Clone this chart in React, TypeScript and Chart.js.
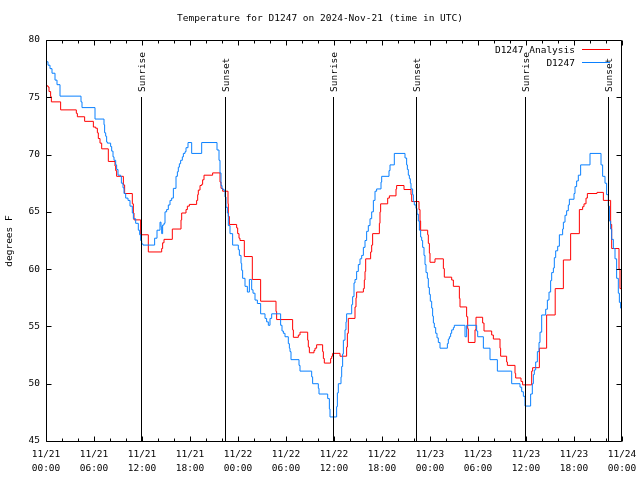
import React, { useEffect, useRef } from "react";
import { Chart, registerables } from "chart.js";

Chart.register(...registerables);

// Hours since 2024-11-21 00:00 UTC, step values (value applies from that hour on)
const analysisHours = [
  0, 0.25, 0.375, 0.58, 0.67, 1.83, 3.79, 3.92, 4.83, 5.92, 6.21, 6.42, 6.54, 6.75, 6.96, 7.79,
  8.625, 8.71, 8.83, 9.67, 9.83, 10.79, 10.92, 11.0, 11.83, 12.79, 14.46, 14.58, 14.75, 15.79,
  16.875, 16.96, 17.5, 17.67, 17.92, 18.83, 18.96, 19.04, 19.25, 19.46, 19.58, 19.75, 20.83,
  21.75, 21.875, 22.08, 22.75, 22.79, 22.92, 23.83, 23.96, 24.125, 24.25, 24.79, 25.79, 26.83,
  28.75, 28.83, 30.83, 30.92, 31.54, 31.75, 32.71, 32.79, 32.92, 33.5, 33.625, 33.83, 34.58,
  34.67, 34.79, 35.58, 35.71, 35.83, 36.75, 37.58, 37.67, 37.79, 38.625, 38.75, 38.83, 39.67,
  39.79, 39.875, 39.96, 40.58, 40.71, 40.83, 41.67, 41.75, 41.83, 42.71, 42.92, 43.75, 43.83,
  44.75, 45.625, 45.71, 46.625, 46.75, 46.83, 47.71, 47.79, 47.92, 48.0, 48.625, 49.67, 49.79,
  50.71, 50.92, 51.67, 51.75, 52.58, 52.71, 52.79, 53.625, 53.75, 54.58, 54.75, 55.71, 55.92,
  56.75, 56.83, 57.58, 57.67, 58.625, 58.71, 59.375, 59.58, 60.71, 60.83, 61.67, 62.58, 63.65,
  64.67, 65.58, 66.67, 67.08, 67.25, 67.5, 67.67, 68.875, 69.67, 70.58, 70.71, 71.625, 71.75, 72.0,
];
const analysisTemps = [
  76.0, 75.9, 75.5, 75.05, 74.6, 73.9, 73.6, 73.3, 72.9, 72.4, 72.3, 71.9, 71.4, 71.0, 70.5, 69.4,
  69.0, 68.6, 68.1, 67.35, 66.6, 65.7, 64.9, 64.3, 63.0, 61.5, 61.8, 62.3, 62.6, 63.5,
  64.3, 64.9, 65.2, 65.5, 65.65, 66.0, 66.5, 66.9, 67.3, 67.4, 67.8, 68.2, 68.4,
  67.6, 67.05, 66.8, 65.7, 64.6, 63.9, 63.6, 63.1, 62.7, 62.5, 61.1, 59.1, 57.2,
  56.3, 55.6, 54.7, 54.05, 54.25, 54.5, 53.8, 53.2, 52.7, 52.9, 53.1, 53.4, 52.8,
  52.2, 51.8, 52.2, 52.4, 52.65, 52.4, 53.2, 54.4, 55.7, 56.7, 57.5, 58.0, 58.3,
  59.05, 59.8, 60.9, 61.5, 62.1, 63.1, 64.0, 65.0, 65.7, 66.2, 66.4, 67.0, 67.3,
  66.95, 66.5, 65.9, 65.2, 64.2, 63.4, 63.0, 62.25, 61.4, 60.6, 60.9, 60.05, 59.3,
  59.05, 58.5, 57.45, 56.7, 55.85, 54.8, 53.6, 54.7, 55.8, 55.3, 54.6, 54.25, 53.9,
  53.1, 52.4, 51.9, 51.6, 50.9, 50.5, 50.2, 49.9, 51.1, 51.4, 53.1, 56.0, 58.3,
  60.8, 63.1, 65.2, 65.45, 65.7, 66.2, 66.6, 66.7, 66.0, 63.9, 61.8, 60.0, 58.3, 58.3,
];

const obsHours = [
  0, 0.25, 0.5, 0.75, 1.125, 1.375, 1.75, 4.375, 4.5, 6.125, 7.25, 7.33, 7.46, 7.58, 7.67, 8.08,
  8.21, 8.375, 8.5, 8.71, 8.83, 9.0, 9.33, 9.42, 9.625, 9.75, 9.96, 10.25, 10.5, 10.79, 10.92,
  11.21, 11.54, 11.71, 11.83, 11.96, 12.125, 13.58, 13.875, 14.25, 14.375, 14.46, 14.58, 14.75,
  14.875, 15.08, 15.29, 15.5, 15.71, 15.92, 16.25, 16.42, 16.54, 16.67, 16.83, 17.04, 17.17,
  17.375, 17.5, 17.75, 18.21, 19.46, 21.375, 21.625, 21.75, 21.875, 22.0, 22.17, 22.375, 22.5,
  22.67, 22.79, 23.0, 23.33, 24.04, 24.17, 24.375, 24.46, 24.58, 24.875, 25.17, 25.42, 25.71,
  25.875, 26.125, 26.42, 26.83, 27.375, 27.58, 27.79, 28.0, 28.21, 29.33, 29.5, 29.67, 29.875,
  30.29, 30.42, 30.5, 30.625, 31.625, 31.75, 33.21, 33.33, 34.04, 34.125, 35.21, 35.42, 35.5,
  36.33, 36.42, 36.54, 36.875, 36.96, 37.08, 37.17, 37.375, 37.5, 37.58, 38.21, 38.33, 38.5,
  38.625, 38.83, 39.04, 39.25, 39.46, 39.67, 39.875, 40.08, 40.29, 40.5, 40.71, 40.92, 41.125,
  41.33, 41.875, 41.96, 42.875, 43.0, 43.54, 44.875, 45.08, 45.17, 45.29, 45.42, 45.54, 45.625,
  45.83, 45.92, 46.04, 46.25, 46.375, 46.54, 46.67, 46.83, 46.96, 47.08, 47.25, 47.375, 47.5,
  47.67, 47.79, 47.92, 48.04, 48.21, 48.33, 48.42, 48.54, 48.71, 48.875, 49.04, 49.25, 50.17,
  50.29, 50.42, 50.58, 50.71, 50.92, 51.04, 52.375, 52.58, 53.83, 53.96, 54.67, 55.5, 56.42,
  58.21, 59.25, 59.46, 59.67, 59.875, 60.58, 60.79, 60.92, 61.04, 61.21, 61.42, 61.625, 61.75,
  61.96, 62.46, 62.67, 62.875, 63.08, 63.21, 63.42, 63.54, 63.71, 63.96, 64.17, 64.58, 64.67,
  64.875, 65.08, 65.29, 65.42, 66.0, 66.125, 66.33, 66.54, 66.83, 68.0, 69.375, 69.58, 69.875,
  70.08, 70.29, 70.42, 70.58, 70.71, 70.92, 71.125, 71.33, 71.54, 71.67, 71.83, 72.0,
];
const obsTemps = [
  78.1, 77.8, 77.5, 77.1, 76.5, 76.1, 75.1, 74.6, 74.1, 73.1, 72.6, 71.9, 71.6, 71.1, 71.0, 70.7,
  70.3, 69.8, 69.5, 69.1, 68.7, 68.2, 68.1, 67.5, 67.1, 66.6, 66.2, 66.0, 65.5, 64.9, 64.4,
  64.0, 63.4, 63.0, 62.5, 62.2, 62.1, 62.7, 63.4, 64.1, 63.7, 63.1, 63.85, 64.0,
  65.0, 65.2, 65.6, 66.0, 66.2, 67.05, 68.1, 68.5, 68.9, 69.2, 69.5, 69.8, 70.1,
  70.25, 70.6, 71.05, 70.1, 71.05, 70.4, 69.5, 68.4, 67.3, 67.0, 66.9, 66.3, 65.4,
  64.9, 63.8, 63.1, 62.1, 61.7, 61.2, 60.5, 59.9, 59.2, 58.5, 58.0, 59.1, 58.2,
  57.9, 57.3, 57.0, 56.1, 55.7, 55.4, 55.1, 55.7, 56.1, 55.1, 54.6, 54.4, 54.1,
  53.5, 53.1, 52.8, 52.1, 51.6, 51.1, 50.6, 50.0, 49.6, 49.1, 48.7, 47.8, 47.1,
  48.0, 49.2, 50.0, 50.6, 51.5, 52.6, 53.8, 54.7, 55.4, 56.1, 56.9, 57.6, 58.8,
  59.1, 59.8, 60.4, 60.9, 61.2, 61.9, 62.5, 63.3, 63.8, 64.4, 65.0, 66.0, 66.8,
  67.0, 67.6, 68.1, 68.6, 69.1, 70.1, 69.7, 69.1, 68.7, 68.2, 67.9, 67.5, 67.0,
  66.5, 65.9, 65.6, 65.3, 64.8, 64.2, 63.4, 62.8, 62.5, 61.9, 61.2, 60.4, 59.7,
  59.2, 58.4, 57.8, 57.2, 56.6, 55.9, 55.3, 54.9, 54.4, 54.0, 53.6, 53.1, 53.5,
  53.9, 54.1, 54.4, 54.7, 54.9, 55.1, 54.1, 55.1, 54.6, 54.1, 53.1, 52.1, 51.1,
  50.0, 49.7, 49.3, 48.9, 48.05, 49.1, 50.0, 50.8, 51.2, 51.9, 52.8, 53.6, 54.5,
  56.0, 56.5, 57.3, 58.0, 59.0, 59.7, 60.1, 61.0, 61.6, 62.0, 63.0, 63.5, 64.1,
  64.7, 65.1, 65.6, 66.1, 66.6, 67.2, 67.7, 68.2, 69.1, 70.1, 69.1, 68.1, 67.5,
  66.5, 65.5, 64.2, 63.5, 62.6, 61.8, 60.9, 59.2, 57.9, 57.1, 56.6, 56.4,
];

const eventHours = [11.875, 22.375, 35.875, 46.25, 59.875, 70.25];
const eventLabels = ["Sunrise", "Sunset", "Sunrise", "Sunset", "Sunrise", "Sunset"];

const seriesNames = ["D1247 Analysis", "D1247"];
const seriesColors = ["#ff0000", "#0a80ff"];

const titleText = "Temperature for D1247 on 2024-Nov-21 (time in UTC)";
const yAxisTitle = "degrees F";
const monthLabel = "11";
const firstDay = 21;

const X_MIN = 0;
const X_MAX = 72;
const X_MAJOR = 6;
const X_MINOR = 2;
const Y_MIN = 45;
const Y_MAX = 80;
const Y_STEP = 5;

const FONT = '"DejaVu Sans Mono", "Liberation Mono", monospace';
const FS = 9.5;

function xTickLabel(v: number): string[] {
  const day = firstDay + Math.floor(v / 24);
  const hh = v % 24;
  return [`${monthLabel}/${day}`, `${String(hh).padStart(2, "0")}:00`];
}

const decorPlugin = {
  id: "decor",
  afterDatasetsDraw(chart: any) {
    const { ctx, chartArea: a, scales } = chart;
    const xs = scales.x;
    const ys = scales.y;
    const L = Math.round(a.left) + 0.5;
    const R = Math.round(a.right) - 0.5;
    const T = Math.round(a.top) + 0.5;
    const B = Math.round(a.bottom) + 0.5;
    ctx.save();
    ctx.strokeStyle = "#000";
    ctx.lineWidth = 1;

    // sunrise / sunset markers
    ctx.font = `${FS}px ${FONT}`;
    ctx.fillStyle = "#000";
    eventHours.forEach((h, i) => {
      const px = Math.round(xs.getPixelForValue(h)) + 0.5;
      ctx.beginPath();
      ctx.moveTo(px, 97);
      ctx.lineTo(px, B);
      ctx.stroke();
      ctx.save();
      ctx.translate(px + 1, 92);
      ctx.rotate(-Math.PI / 2);
      ctx.textAlign = "left";
      ctx.textBaseline = "middle";
      ctx.fillText(eventLabels[i], 0, 0);
      ctx.restore();
    });

    // frame
    ctx.beginPath();
    ctx.moveTo(L, T);
    ctx.lineTo(R, T);
    ctx.lineTo(R, B);
    ctx.lineTo(L, B);
    ctx.closePath();
    ctx.stroke();

    // x ticks (inward, bottom and top)
    ctx.beginPath();
    for (let h = X_MIN; h <= X_MAX; h += X_MINOR) {
      const len = h % X_MAJOR === 0 ? 5 : 3;
      const px = Math.round(xs.getPixelForValue(h)) + 0.5;
      ctx.moveTo(px, B);
      ctx.lineTo(px, B - len);
      ctx.moveTo(px, T);
      ctx.lineTo(px, T + len);
    }
    // y ticks (inward, left and right)
    for (let v = Y_MIN; v <= Y_MAX; v += Y_STEP) {
      const py = Math.round(ys.getPixelForValue(v)) + 0.5;
      ctx.moveTo(L, py);
      ctx.lineTo(L + 5, py);
      ctx.moveTo(R, py);
      ctx.lineTo(R - 5, py);
    }
    ctx.stroke();

    // title
    ctx.textAlign = "center";
    ctx.textBaseline = "middle";
    ctx.fillText(titleText, 320, 19);

    // y axis title
    ctx.save();
    ctx.translate(10, 241);
    ctx.rotate(-Math.PI / 2);
    ctx.textAlign = "center";
    ctx.textBaseline = "middle";
    ctx.fillText(yAxisTitle, 0, 0);
    ctx.restore();

    // legend
    const legY = [49.5, 62.5];
    seriesNames.forEach((name, i) => {
      ctx.fillStyle = "#000";
      ctx.textAlign = "right";
      ctx.textBaseline = "middle";
      ctx.fillText(name, 575, legY[i] + 1);
      ctx.strokeStyle = seriesColors[i];
      ctx.beginPath();
      ctx.moveTo(582, legY[i]);
      ctx.lineTo(610, legY[i]);
      ctx.stroke();
    });

    ctx.restore();
  },
};

export default function App() {
  const canvasRef = useRef<HTMLCanvasElement | null>(null);

  useEffect(() => {
    if (!canvasRef.current) return;
    const analysisData = analysisHours.map((h, i) => ({ x: h, y: analysisTemps[i] }));
    const obsData = obsHours.map((h, i) => ({ x: h, y: obsTemps[i] }));
    const tickFont = { family: FONT, size: FS, lineHeight: 1.5 };

    const chart = new Chart(canvasRef.current, {
      type: "line",
      data: {
        datasets: [
          {
            label: seriesNames[1],
            data: obsData,
            borderColor: seriesColors[1],
            borderWidth: 1,
            pointRadius: 0,
            stepped: "before",
            fill: false,
            order: 0,
          },
          {
            label: seriesNames[0],
            data: analysisData,
            borderColor: seriesColors[0],
            borderWidth: 1,
            pointRadius: 0,
            stepped: "before",
            fill: false,
            order: 1,
          },
        ],
      },
      options: {
        animation: false,
        responsive: false,
        layout: { padding: { left: 0, right: 18, top: 40, bottom: 0 } },
        plugins: {
          legend: { display: false },
          title: { display: false },
          tooltip: { enabled: false },
        },
        scales: {
          x: {
            type: "linear",
            min: X_MIN,
            max: X_MAX,
            grid: { display: false, drawTicks: false },
            border: { display: false },
            ticks: {
              stepSize: X_MAJOR,
              autoSkip: false,
              maxRotation: 0,
              minRotation: 0,
              padding: 6,
              color: "#000",
              font: tickFont,
              callback: (v: any) => xTickLabel(Number(v)),
            },
            afterFit: (s: any) => {
              s.height = 39;
              s.paddingLeft = 0;
              s.paddingRight = 0;
            },
          },
          y: {
            type: "linear",
            min: Y_MIN,
            max: Y_MAX,
            grid: { display: false, drawTicks: false },
            border: { display: false },
            ticks: {
              stepSize: Y_STEP,
              padding: 6,
              color: "#000",
              font: { family: FONT, size: FS },
            },
            afterFit: (s: any) => {
              s.width = 46;
              s.paddingTop = 0;
              s.paddingBottom = 0;
            },
          },
        },
      },
      plugins: [decorPlugin],
    } as any);

    return () => chart.destroy();
  }, []);

  return (
    <div
      style={{
        position: "fixed",
        left: 0,
        top: 0,
        width: 640,
        height: 480,
        background: "#fff",
      }}
    >
      <canvas ref={canvasRef} width={640} height={480} style={{ display: "block" }} />
    </div>
  );
}
